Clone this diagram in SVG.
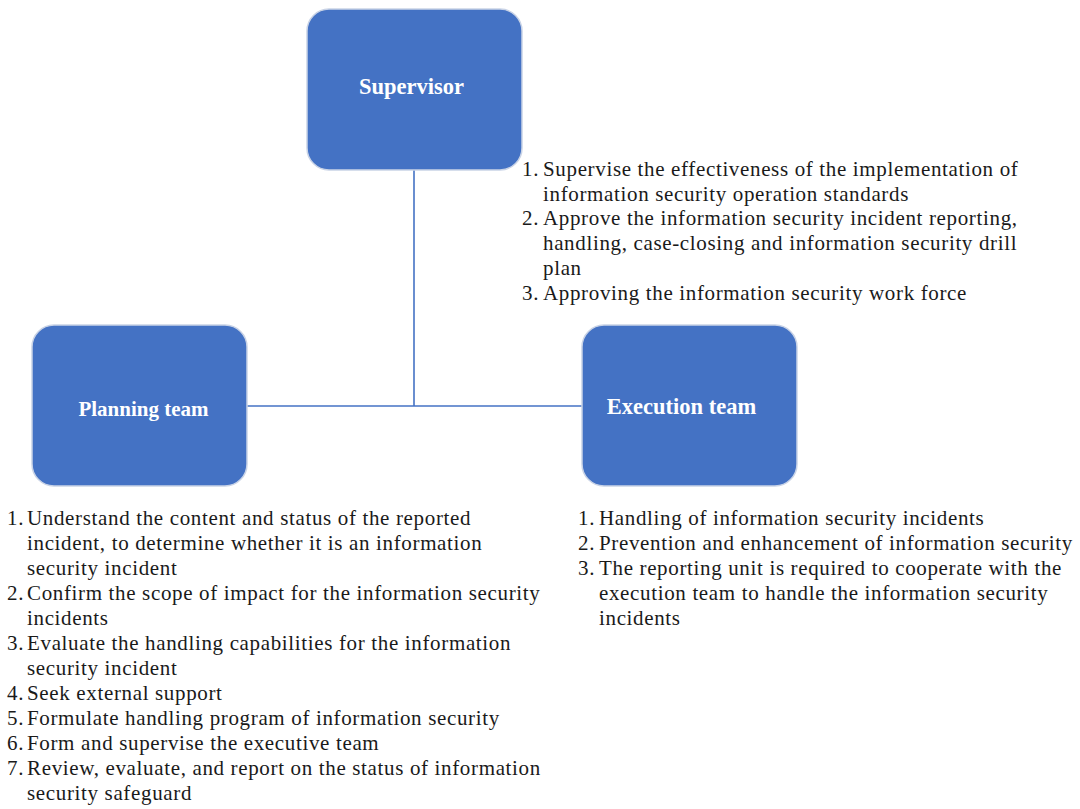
<svg xmlns="http://www.w3.org/2000/svg" width="1080" height="809" viewBox="0 0 1080 809">
<style>
.box{fill:#4472C4;stroke:#c9d3e6;stroke-width:1.5}
.title{fill:#ffffff;font-family:"Liberation Serif",serif;font-weight:bold;font-size:21px;text-anchor:middle}
.title.wide{font-size:22.5px}
.list{fill:#1a1a1a;font-family:"Liberation Serif",serif;font-size:21px;letter-spacing:0.65px}
.conn{stroke:#4472C4;stroke-width:1.6;fill:none}
</style>
<rect width="1080" height="809" fill="#ffffff"/>
<g id="connectors">
<line class="conn" x1="414" y1="170" x2="414" y2="406"/>
<line class="conn" x1="247" y1="406" x2="582" y2="406"/>
</g>
<g id="supervisor">
<rect class="box" x="307" y="9" width="215" height="161" rx="22"/>
<text class="title wide" x="411.5" y="94">Supervisor</text>
</g>
<g id="planning">
<rect class="box" x="32" y="325" width="215" height="161" rx="22"/>
<text class="title" x="143.5" y="416">Planning team</text>
</g>
<g id="execution">
<rect class="box" x="582" y="325" width="215" height="161" rx="22"/>
<text class="title wide" x="681.5" y="414">Execution team</text>
</g>
<g id="supervisor-notes" class="list">
<text x="522" y="176">1.</text><text x="543" y="176">Supervise the effectiveness of the implementation of</text>
<text x="543" y="201">information security operation standards</text>
<text x="522" y="225">2.</text><text x="543" y="225">Approve the information security incident reporting,</text>
<text x="543" y="250">handling, case-closing and information security drill</text>
<text x="543" y="275">plan</text>
<text x="522" y="300">3.</text><text x="543" y="300">Approving the information security work force</text>
</g>
<g id="planning-notes" class="list">
<text x="7" y="525">1.</text><text x="27" y="525">Understand the content and status of the reported</text>
<text x="27" y="550">incident, to determine whether it is an information</text>
<text x="27" y="575">security incident</text>
<text x="7" y="600">2.</text><text x="27" y="600">Confirm the scope of impact for the information security</text>
<text x="27" y="625">incidents</text>
<text x="7" y="650">3.</text><text x="27" y="650">Evaluate the handling capabilities for the information</text>
<text x="27" y="675">security incident</text>
<text x="7" y="700">4.</text><text x="27" y="700">Seek external support</text>
<text x="7" y="725">5.</text><text x="27" y="725">Formulate handling program of information security</text>
<text x="7" y="750">6.</text><text x="27" y="750">Form and supervise the executive team</text>
<text x="7" y="775">7.</text><text x="27" y="775">Review, evaluate, and report on the status of information</text>
<text x="27" y="800">security safeguard</text>
</g>
<g id="execution-notes" class="list">
<text x="578" y="525">1.</text><text x="599" y="525">Handling of information security incidents</text>
<text x="578" y="550">2.</text><text x="599" y="550">Prevention and enhancement of information security</text>
<text x="578" y="575">3.</text><text x="599" y="575">The reporting unit is required to cooperate with the</text>
<text x="599" y="600">execution team to handle the information security</text>
<text x="599" y="625">incidents</text>
</g>
</svg>
